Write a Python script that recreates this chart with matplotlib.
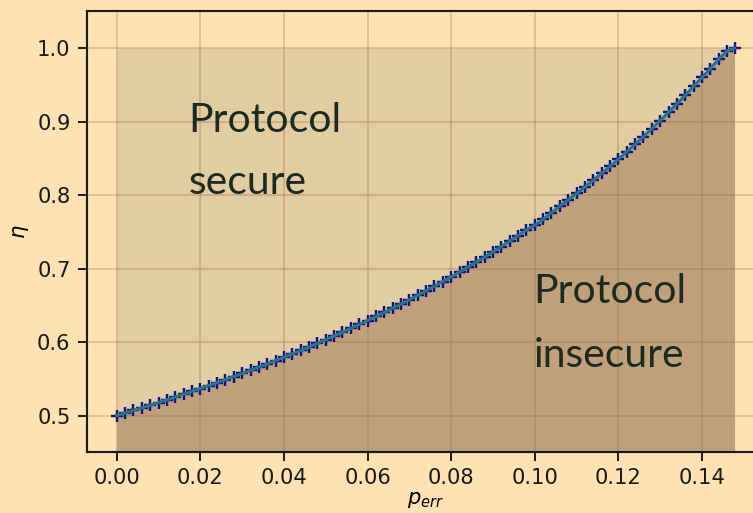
import matplotlib
matplotlib.use("Agg")
import matplotlib.pyplot as plt

# error probability values (x)
p_err = [0.000, 0.002, 0.004, 0.006, 0.008, 0.010, 0.012, 0.014, 0.016, 0.018,
         0.020, 0.022, 0.024, 0.026, 0.028, 0.030, 0.032, 0.034, 0.036, 0.038,
         0.040, 0.042, 0.044, 0.046, 0.048, 0.050, 0.052, 0.054, 0.056, 0.058,
         0.060, 0.062, 0.064, 0.066, 0.068, 0.070, 0.072, 0.074, 0.076, 0.078,
         0.080, 0.082, 0.084, 0.086, 0.088, 0.090, 0.092, 0.094, 0.096, 0.098,
         0.100, 0.102, 0.104, 0.106, 0.108, 0.110, 0.112, 0.114, 0.116, 0.118,
         0.120, 0.122, 0.124, 0.126, 0.128, 0.130, 0.132, 0.134, 0.136, 0.138,
         0.140, 0.142, 0.144, 0.146, 0.1478]

# threshold efficiency eta (y)
eta = [0.5000, 0.5035, 0.5070, 0.5105, 0.5141, 0.5177, 0.5214, 0.5252, 0.5290, 0.5329,
       0.5368, 0.5408, 0.5448, 0.5489, 0.5530, 0.5573, 0.5616, 0.5659, 0.5703, 0.5748,
       0.5794, 0.5840, 0.5887, 0.5935, 0.5984, 0.6033, 0.6084, 0.6135, 0.6187, 0.6240,
       0.6293, 0.6348, 0.6404, 0.6460, 0.6518, 0.6577, 0.6637, 0.6698, 0.6760, 0.6823,
       0.6887, 0.6953, 0.7020, 0.7088, 0.7157, 0.7228, 0.7300, 0.7374, 0.7449, 0.7526,
       0.7590, 0.7670, 0.7760, 0.7850, 0.7935, 0.8022, 0.8112, 0.8203, 0.8296, 0.8391,
       0.8489, 0.8589, 0.8691, 0.8796, 0.8903, 0.9013, 0.9126, 0.9241, 0.9360, 0.9481,
       0.9600, 0.9720, 0.9850, 0.9960, 1.0000]

x_ticks = [0.00, 0.02, 0.04, 0.06, 0.08, 0.10, 0.12, 0.14]
y_ticks = [0.5, 0.6, 0.7, 0.8, 0.9, 1.0]

BG = "#FFE2B3"
UPPER = "#E2CCA2"
LOWER = "#C0A07B"
TXT = "#1c2a1f"

plt.rcParams["font.family"] = ["DejaVu Sans"]
fig = plt.figure(figsize=(753 / 140, 513 / 140), dpi=140, facecolor=BG)
ax = fig.add_axes([0.1151, 0.1183, 0.9015, 0.8596], facecolor=BG)

ax.fill_between(p_err, eta, [1.0] * len(eta), color=UPPER, zorder=1, lw=0)
ax.fill_between(p_err, [0.40] * len(eta), eta, color=LOWER, zorder=1, lw=0)

ax.grid(True, color="#9a7040", alpha=0.3, lw=1.0, zorder=1.5)
ax.set_axisbelow("line")

ax.plot(p_err, eta, linestyle="none", marker="+", markersize=6,
        markeredgewidth=1.25, color="#10108a", zorder=3)
ax.plot(p_err, eta, color="#2a7585", lw=1.6, zorder=4)

ax.text(0.0171, 0.8865, "Protocol", fontsize=21, family=["Lato", "DejaVu Sans"],
        color=TXT, va="baseline", ha="left")
ax.text(0.0171, 0.8017, "secure", fontsize=21, family=["Lato", "DejaVu Sans"],
        color=TXT, va="baseline", ha="left")
ax.text(0.0997, 0.653, "Protocol", fontsize=21, family=["Lato", "DejaVu Sans"],
        color=TXT, va="baseline", ha="left")
ax.text(0.0997, 0.5667, "insecure", fontsize=21, family=["Lato", "DejaVu Sans"],
        color=TXT, va="baseline", ha="left")

ax.set_xlim(-0.0072, 0.1552)
ax.set_ylim(0.45, 1.05)
ax.set_xticks(x_ticks)
ax.set_yticks(y_ticks)
ax.set_xticklabels([f"{v:.2f}" for v in x_ticks])
ax.set_yticklabels([f"{v:.1f}" for v in y_ticks])
ax.tick_params(labelsize=10.8, colors="#1a1a1a", width=1.0, length=4.8)
for s in ax.spines.values():
    s.set_color("#1a1a1a")
    s.set_linewidth(1.1)

ax.set_xlabel(r"$p_{err}$", fontsize=10.8, labelpad=1)
ax.set_ylabel(r"$\eta$", fontsize=10.8, labelpad=3)

fig.savefig("out.png", dpi=140, facecolor=BG)
